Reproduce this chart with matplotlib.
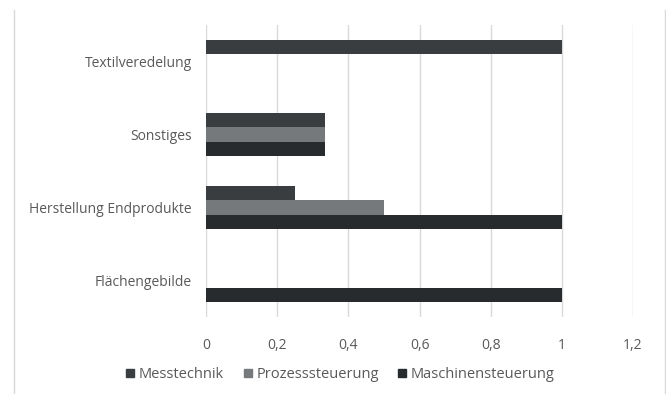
import matplotlib.pyplot as plt
import numpy as np
from matplotlib.lines import Line2D

plt.rcParams['font.family'] = ['Open Sans', 'DejaVu Sans']

# Anteile je Branche und Steuerungsart
categories = ['Flächengebilde', 'Herstellung Endprodukte', 'Sonstiges', 'Textilveredelung']
series_names = ['Messtechnik', 'Prozesssteuerung', 'Maschinensteuerung']
messtechnik = [0, 0.25, 0.3333, 1]
prozesssteuerung = [0, 0.5, 0.3333, 0]
maschinensteuerung = [1, 1, 0.3333, 0]
x_ticks = [0, 0.2, 0.4, 0.6, 0.8, 1, 1.2]
x_ticklabels = ['0', '0,2', '0,4', '0,6', '0,8', '1', '1,2']

colors = ['#3a3d40', '#75797b', '#282b2e']
text_color = '#595959'

fig = plt.figure(figsize=(6.66, 3.94), dpi=100)
ax = fig.add_axes([206 / 666, 77 / 394, 427 / 666, 292 / 394])

y = np.arange(len(categories))
h = 0.2
values = [messtechnik, prozesssteuerung, maschinensteuerung]
offsets = [h, 0, -h]
for vals, off, c, name in zip(values, offsets, colors, series_names):
    ax.barh(y + off, vals, height=h, color=c, linewidth=0, label=name, zorder=3)

ax.set_xlim(0, 1.2)
ax.set_ylim(-0.5, len(categories) - 0.5)
ax.set_xticks(x_ticks)
ax.set_xticklabels(x_ticklabels)
ax.set_yticks(y)
ax.set_yticklabels(categories)
ax.tick_params(axis='both', length=0, labelsize=10, colors=text_color)
ax.tick_params(axis='x', pad=15)
ax.tick_params(axis='y', pad=10)
ax.grid(axis='x', color='#d9d9d9', linewidth=1, zorder=0)
for s in ax.spines.values():
    s.set_visible(False)

handles = [Line2D([], [], marker='s', linestyle='none', markersize=6,
                  markerfacecolor=c, markeredgecolor=c) for c in colors]
fig.legend(handles, series_names, loc='center', bbox_to_anchor=(0.51, 1 - 375 / 394),
           ncol=3, frameon=False, fontsize=10.5, labelcolor=text_color,
           handletextpad=0.2, columnspacing=1.2, handlelength=0.8)

# Rahmenlinien links und rechts
for xf in (14 / 666, 665 / 666):
    fig.add_artist(Line2D([xf, xf], [0, 1 - 10 / 394], color='#d9d9d9', linewidth=1))

fig.savefig('out.png', dpi=100, facecolor='white')
